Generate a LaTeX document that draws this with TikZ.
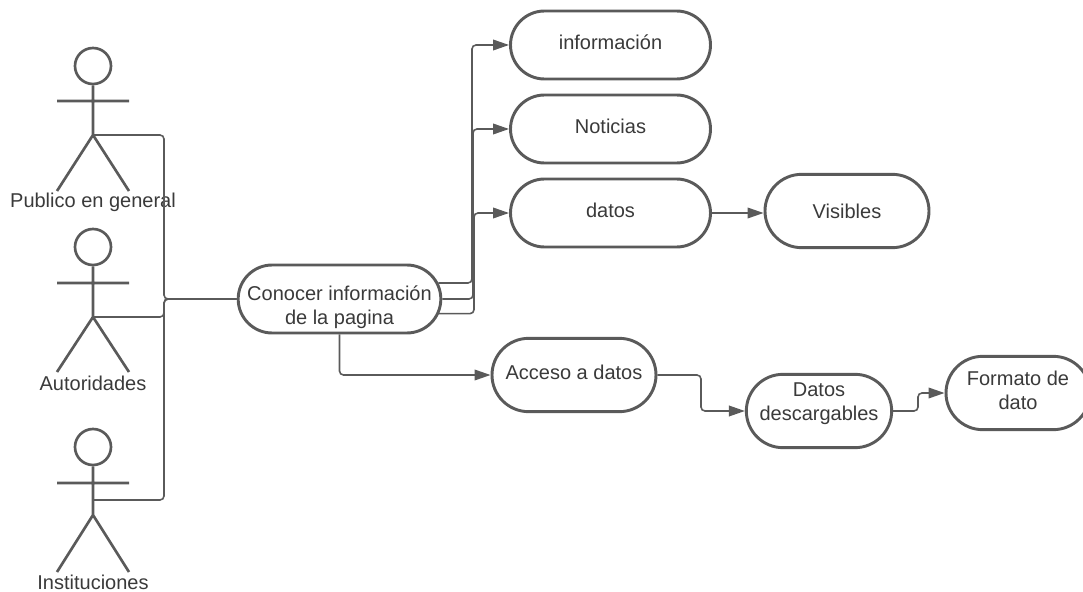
\documentclass[tikz,border=0pt]{standalone}
\usepackage{fontspec}
\setmainfont{Liberation Sans}
\usetikzlibrary{arrows.meta}

\begin{document}
\begin{tikzpicture}[x=0.75pt,y=-0.75pt,>={Triangle[length=12pt,width=8pt]},
  line/.style={draw=linegray,line width=1.2pt,rounded corners=3pt},
  limb/.style={draw=linegray,line width=2pt},
  head node/.style={circle,draw=linegray,line width=2pt,minimum size=27pt,inner sep=0pt},
  actor label/.style={text=textgray,font=\fontsize{15}{18}\selectfont,inner sep=0pt},
  main node/.style={rectangle,rounded corners=25.5pt,draw=linegray,line width=2.2pt,fill=white,text=textgray,font=\fontsize{15}{18}\selectfont,align=center,inner sep=0pt,minimum height=51pt},
  tall node/.style={main node,rounded corners=27.5pt,minimum height=55pt},
  raised/.style={text height=11pt,text depth=4.5pt}]
  \definecolor{linegray}{HTML}{5A5A5A}
  \definecolor{textgray}{HTML}{3A3A3A}
  \useasboundingbox (0,0) rectangle (1083,592);

  % actors
  \node[head node] (head1) at (93,66) {};
  \node[head node] (head2) at (93,247) {};
  \node[head node] (head3) at (93,447) {};
  \coordinate (hip1) at (93,135);
  \coordinate (hip2) at (93,317);
  \coordinate (hip3) at (93,515);
  \coordinate (neck3) at (93,500);
  \coordinate (armL1) at (57,101);
  \coordinate (armR1) at (129,101);
  \coordinate (armL2) at (57,283);
  \coordinate (armR2) at (129,283);
  \coordinate (armL3) at (57,483);
  \coordinate (armR3) at (129,483);
  \coordinate (footL1) at (57,191);
  \coordinate (footR1) at (129,191);
  \coordinate (footL2) at (57,372);
  \coordinate (footR2) at (129,372);
  \coordinate (footL3) at (57,572);
  \coordinate (footR3) at (129,572);
  \draw[limb] (head1) -- (hip1) (armL1) -- (armR1) (footL1) -- (hip1) -- (footR1);
  \draw[limb] (head2) -- (hip2) (armL2) -- (armR2) (footL2) -- (hip2) -- (footR2);
  \draw[limb] (head3) -- (hip3) (armL3) -- (armR3) (footL3) -- (hip3) -- (footR3);
  \node[actor label] (publico) at (93,202) {Publico en general};
  \node[actor label] (autoridades) at (93,383) {Autoridades};
  \node[actor label] (instituciones) at (93,582) {Instituciones};

  % use cases
  \node[main node,minimum width=152pt,text height=41pt,text depth=3pt] (conocer) at (339.5,299) {Conocer información\\de la pagina};
  \node[main node,raised,minimum width=150pt] (info) at (610.5,45) {información};
  \node[main node,raised,minimum width=150pt] (noticias) at (610.5,129) {Noticias};
  \node[main node,raised,minimum width=150pt] (datos) at (610.5,213) {datos};
  \node[tall node,minimum width=123pt] (visibles) at (847,211) {Visibles};
  \node[tall node,raised,minimum width=123pt] (acceso) at (574,375) {Acceso a datos};
  \node[tall node,minimum width=109pt,text height=29pt,text depth=15.5pt] (descargables) at (819,411) {Datos\\descargables};
  \node[tall node,minimum width=108pt,text height=29pt,text depth=5pt] (formato) at (1018,393) {Formato de\\dato};

  % connectors
  \coordinate (bus) at (164,299);
  \draw[line] (hip1) -| (bus) -- (conocer.west);
  \draw[line] (hip2) -| (bus) -- (conocer.west);
  \draw[line] (neck3) -| (bus) -- (conocer.west);

  \coordinate (trunk1) at (472,164);
  \coordinate (trunk2) at (473,214);
  \coordinate (trunk3) at (474,263);
  \draw[line,->] ([xshift=-3pt,yshift=12pt]conocer.east) -| (trunk1) |- (info.west);
  \draw[line,->] (conocer.east) -| (trunk2) |- (noticias.west);
  \draw[line,->] ([xshift=-3pt,yshift=-11pt]conocer.east) -| (trunk3) |- (datos.west);
  \draw[line,->] (datos.east) -- (visibles.west |- datos.east);
  \draw[line,->] (conocer.south) |- (acceso.west);
  \coordinate (bend1) at (701,393);
  \draw[line,->] (acceso.east) -| (bend1) |- (descargables.west);
  \coordinate (bend2) at (918,402);
  \draw[line,->] (descargables.east) -| (bend2) |- (formato.west);
\end{tikzpicture}
\end{document}
